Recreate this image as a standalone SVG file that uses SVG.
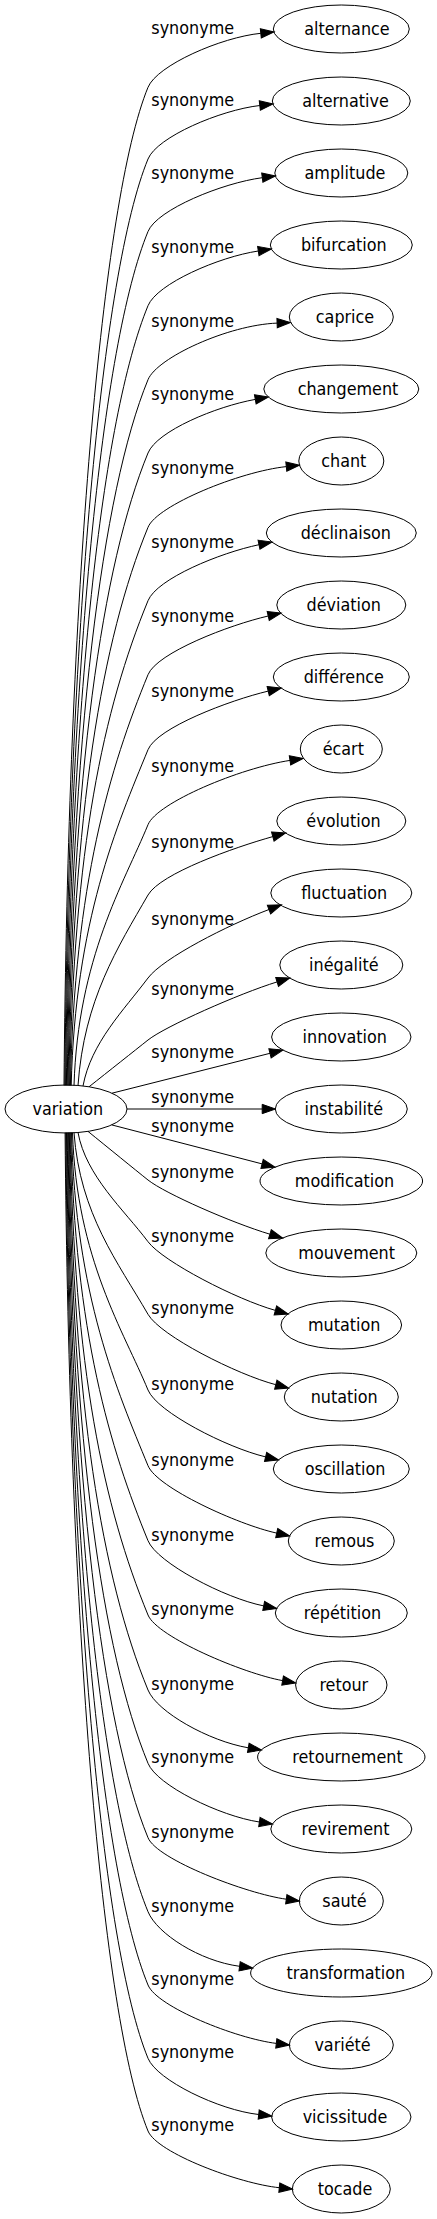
<svg xmlns="http://www.w3.org/2000/svg" width="437" height="2219" viewBox="0 0 437 2219">
<style>
.e{fill:none;stroke:#000;stroke-width:1;marker-end:url(#ah)}
.n{fill:none;stroke:#000;stroke-width:1}
text{font-family:'DejaVu Sans Condensed','DejaVu Sans',sans-serif;font-stretch:condensed;font-size:17.8px;fill:#000;text-anchor:middle}
.l{text-anchor:middle}
</style>
<defs>
<marker id="ah" markerUnits="userSpaceOnUse" orient="auto" refX="0" refY="0" markerWidth="14" markerHeight="10" overflow="visible">
<path d="M0,-4.67 L13.3,0 L0,4.67 Z" fill="#000" stroke="#000" stroke-width="1"/>
</marker>
</defs>
<rect width="437" height="2219" fill="#fff"/>
<g id="edges">
<path class="e" d="M64,1085.5 C68,596.4 101.8,199.7 148,87.3 C157,65.3 221,37.3 260.8,33.3"/>
<path class="e" d="M64.8,1085.5 C68.8,631.5 101.8,271.4 148,159 C157,137 220.1,110.1 259.8,105.5"/>
<path class="e" d="M65.6,1085.5 C69.6,667 101.8,343.9 148,231.5 C157,209.5 222.6,182.9 262.3,177.7"/>
<path class="e" d="M66.4,1085.5 C70.4,703.4 101.8,418.1 148,305.7 C157,283.7 218.8,256.9 258.3,251"/>
<path class="e" d="M67.2,1085.5 C71.2,739.7 101.8,492.1 148,379.7 C157,357.7 228,325 277.1,323.1"/>
<path class="e" d="M68,1085.5 C72,775.6 101.8,565.4 148,453 C157,431 215.9,406.5 255.3,399.4"/>
<path class="e" d="M68.8,1085.5 C72.8,812 101.8,639.7 148,527.3 C157,505.3 240,471.5 286.3,466.6"/>
<path class="e" d="M69.6,1085.5 C73.6,847.9 103.2,709.7 148,600.7 C157,578.7 219.8,552.9 259,544.7"/>
<path class="e" d="M70.4,1085.5 C74.4,884.2 110.1,767 148,674.7 C157,652.7 229.2,625 268.2,616"/>
<path class="e" d="M71.2,1085.5 C75.2,921 117,825.2 148,749.7 C157,727.7 229.3,700.4 268.2,691.1"/>
<path class="e" d="M74,1085.6 C78,957.8 123.9,883.3 148,824.7 C157,802.7 240,768 290,760.4"/>
<path class="e" d="M78,1085.5 C84,999.8 118,947 148,895 C160.5,873.4 234.3,847.4 272.8,836.6"/>
<path class="e" d="M83,1086 C91,1042.8 124,1010 148,978 C163,958 228,925 269,909.5"/>
<path class="e" d="M89,1086.8 C108.7,1071.2 134,1051.2 148,1040 C165.2,1026.4 238.9,993.7 277.1,981.9"/>
<path class="e" d="M112,1093.2 L270,1053.3"/>
<path class="e" d="M127,1109 L262.2,1109"/>
<path class="e" d="M111.7,1124.9 L262.1,1163.9"/>
<path class="e" d="M88,1131.4 C108,1147.6 134,1168.8 148,1180 C165.2,1193.6 231.6,1222.7 269.9,1234.2"/>
<path class="e" d="M78,1132.5 C86,1176.2 124,1209.7 148,1241.7 C163,1261.7 236.9,1299.6 275.4,1310.4"/>
<path class="e" d="M74,1132.6 C80,1214.4 118,1262.3 148,1314.3 C160.5,1335.9 237.1,1374.6 275.8,1384.7"/>
<path class="e" d="M72.5,1132.6 C76.5,1258.7 124.2,1332.2 148,1390 C157,1412 226.7,1447.6 265.6,1456.9"/>
<path class="e" d="M71.5,1132.6 C75.5,1295.8 117.3,1390.9 148,1465.7 C157,1487.7 237.6,1524.5 276.7,1533.1"/>
<path class="e" d="M70.7,1132.6 C74.7,1332.6 110.3,1448.9 148,1540.7 C157,1562.7 224.5,1598.1 263.7,1605.9"/>
<path class="e" d="M70,1132.6 C74,1369 103.5,1506.6 148,1615 C157,1637 243.2,1673.5 282.6,1680.6"/>
<path class="e" d="M69.3,1132.6 C73.3,1405.7 101.8,1577.6 148,1690 C157,1712 208.9,1741.1 248.3,1747.8"/>
<path class="e" d="M68.6,1132.6 C72.6,1441.6 101.8,1650.9 148,1763.3 C157,1785.3 219.8,1816.1 259.4,1822"/>
<path class="e" d="M67.9,1132.6 C71.9,1478.1 101.8,1725.3 148,1837.7 C157,1859.7 246.7,1893.7 286.3,1899.2"/>
<path class="e" d="M67.2,1132.6 C71.2,1514.4 101.8,1799.3 148,1911.7 C157,1933.7 199.9,1961.1 239.6,1966.3"/>
<path class="e" d="M66.5,1132.6 C70.5,1550.3 101.8,1872.6 148,1985 C157,2007 236.6,2038.6 276.3,2043.4"/>
<path class="e" d="M65.8,1132.6 C69.8,1586.2 101.8,1945.9 148,2058.3 C157,2080.3 218.9,2110.1 258.7,2114.5"/>
<path class="e" d="M65.1,1132.6 C69.1,1621.8 101.8,2018.6 148,2131 C157,2153 239.5,2183.7 279.3,2187.7"/>
<g id="edge-labels">
<text x="192.7" y="34.3">synonyme</text>
<text x="192.7" y="106">synonyme</text>
<text x="192.7" y="178.5">synonyme</text>
<text x="192.7" y="252.7">synonyme</text>
<text x="192.7" y="326.7">synonyme</text>
<text x="192.7" y="400">synonyme</text>
<text x="192.7" y="474.3">synonyme</text>
<text x="192.7" y="547.7">synonyme</text>
<text x="192.7" y="621.7">synonyme</text>
<text x="192.7" y="696.7">synonyme</text>
<text x="192.7" y="771.7">synonyme</text>
<text x="192.7" y="848.3">synonyme</text>
<text x="192.7" y="925">synonyme</text>
<text x="192.7" y="995">synonyme</text>
<text x="192.7" y="1058">synonyme</text>
<text x="192.7" y="1103">synonyme</text>
<text x="192.7" y="1132">synonyme</text>
<text x="192.7" y="1178">synonyme</text>
<text x="192.7" y="1241.7">synonyme</text>
<text x="192.7" y="1314.3">synonyme</text>
<text x="192.7" y="1390">synonyme</text>
<text x="192.7" y="1465.7">synonyme</text>
<text x="192.7" y="1540.7">synonyme</text>
<text x="192.7" y="1615">synonyme</text>
<text x="192.7" y="1690">synonyme</text>
<text x="192.7" y="1763.3">synonyme</text>
<text x="192.7" y="1837.7">synonyme</text>
<text x="192.7" y="1911.7">synonyme</text>
<text x="192.7" y="1985">synonyme</text>
<text x="192.7" y="2058.3">synonyme</text>
<text x="192.7" y="2131">synonyme</text>
</g>
</g>
<g id="n-variation"><ellipse class="n" cx="66" cy="1109" rx="61" ry="24"/><text x="67.8" y="1115">variation</text></g>
<g id="n-alternance"><ellipse class="n" cx="341.3" cy="29" rx="68" ry="24"/><text x="347" y="35">alternance</text></g>
<g id="n-alternative"><ellipse class="n" cx="341.3" cy="101" rx="69" ry="24"/><text x="345.5" y="107">alternative</text></g>
<g id="n-amplitude"><ellipse class="n" cx="341.3" cy="173" rx="66.5" ry="24"/><text x="345" y="179">amplitude</text></g>
<g id="n-bifurcation"><ellipse class="n" cx="341.3" cy="245" rx="71" ry="24"/><text x="343.8" y="251">bifurcation</text></g>
<g id="n-caprice"><ellipse class="n" cx="341.3" cy="317" rx="52" ry="24"/><text x="345" y="323">caprice</text></g>
<g id="n-changement"><ellipse class="n" cx="341.3" cy="389" rx="77.5" ry="24"/><text x="348" y="395">changement</text></g>
<g id="n-chant"><ellipse class="n" cx="341.3" cy="461" rx="42.5" ry="24"/><text x="343.8" y="467">chant</text></g>
<g id="n-declinaison"><ellipse class="n" cx="341.3" cy="533" rx="75" ry="24"/><text x="345.8" y="539">déclinaison</text></g>
<g id="n-deviation"><ellipse class="n" cx="341.3" cy="605" rx="64.5" ry="24"/><text x="343.7" y="611">déviation</text></g>
<g id="n-difference"><ellipse class="n" cx="341.3" cy="677" rx="68" ry="24"/><text x="343.8" y="683">différence</text></g>
<g id="n-ecart"><ellipse class="n" cx="341.3" cy="749" rx="41" ry="24"/><text x="343.3" y="755">écart</text></g>
<g id="n-evolution"><ellipse class="n" cx="341.3" cy="821" rx="64.5" ry="24"/><text x="343.5" y="827">évolution</text></g>
<g id="n-fluctuation"><ellipse class="n" cx="341.3" cy="893" rx="70.5" ry="24"/><text x="344.2" y="899">fluctuation</text></g>
<g id="n-inegalite"><ellipse class="n" cx="341.3" cy="965" rx="61.5" ry="24"/><text x="343.8" y="971">inégalité</text></g>
<g id="n-innovation"><ellipse class="n" cx="341.3" cy="1037" rx="69.7" ry="24"/><text x="344.8" y="1043">innovation</text></g>
<g id="n-instabilite"><ellipse class="n" cx="341.3" cy="1109" rx="66" ry="24"/><text x="343.8" y="1115">instabilité</text></g>
<g id="n-modification"><ellipse class="n" cx="341.3" cy="1181" rx="81.3" ry="24"/><text x="344.5" y="1187">modification</text></g>
<g id="n-mouvement"><ellipse class="n" cx="341.3" cy="1253" rx="75.5" ry="24"/><text x="346.7" y="1259">mouvement</text></g>
<g id="n-mutation"><ellipse class="n" cx="341.3" cy="1325" rx="60.3" ry="24"/><text x="344.2" y="1331">mutation</text></g>
<g id="n-nutation"><ellipse class="n" cx="341.3" cy="1397" rx="57" ry="24"/><text x="344.2" y="1403">nutation</text></g>
<g id="n-oscillation"><ellipse class="n" cx="341.3" cy="1469" rx="68" ry="24"/><text x="345" y="1475">oscillation</text></g>
<g id="n-remous"><ellipse class="n" cx="341.3" cy="1541" rx="53" ry="24"/><text x="344.5" y="1547">remous</text></g>
<g id="n-repetition"><ellipse class="n" cx="341.3" cy="1613" rx="66" ry="24"/><text x="342.5" y="1619">répétition</text></g>
<g id="n-retour"><ellipse class="n" cx="341.3" cy="1685" rx="45.7" ry="24"/><text x="343.8" y="1691">retour</text></g>
<g id="n-retournement"><ellipse class="n" cx="341.3" cy="1757" rx="83.7" ry="24"/><text x="347.5" y="1763">retournement</text></g>
<g id="n-revirement"><ellipse class="n" cx="341.3" cy="1829" rx="70.5" ry="24"/><text x="345.5" y="1835">revirement</text></g>
<g id="n-saute"><ellipse class="n" cx="341.3" cy="1901" rx="42" ry="24"/><text x="344.5" y="1907">sauté</text></g>
<g id="n-transformation"><ellipse class="n" cx="341.3" cy="1973" rx="90.7" ry="24"/><text x="345.8" y="1979">transformation</text></g>
<g id="n-variete"><ellipse class="n" cx="341.3" cy="2045" rx="52" ry="24"/><text x="342.5" y="2051">variété</text></g>
<g id="n-vicissitude"><ellipse class="n" cx="341.3" cy="2117" rx="69.7" ry="24"/><text x="345" y="2123">vicissitude</text></g>
<g id="n-tocade"><ellipse class="n" cx="341.3" cy="2189" rx="49" ry="24"/><text x="345" y="2195">tocade</text></g>
</svg>
